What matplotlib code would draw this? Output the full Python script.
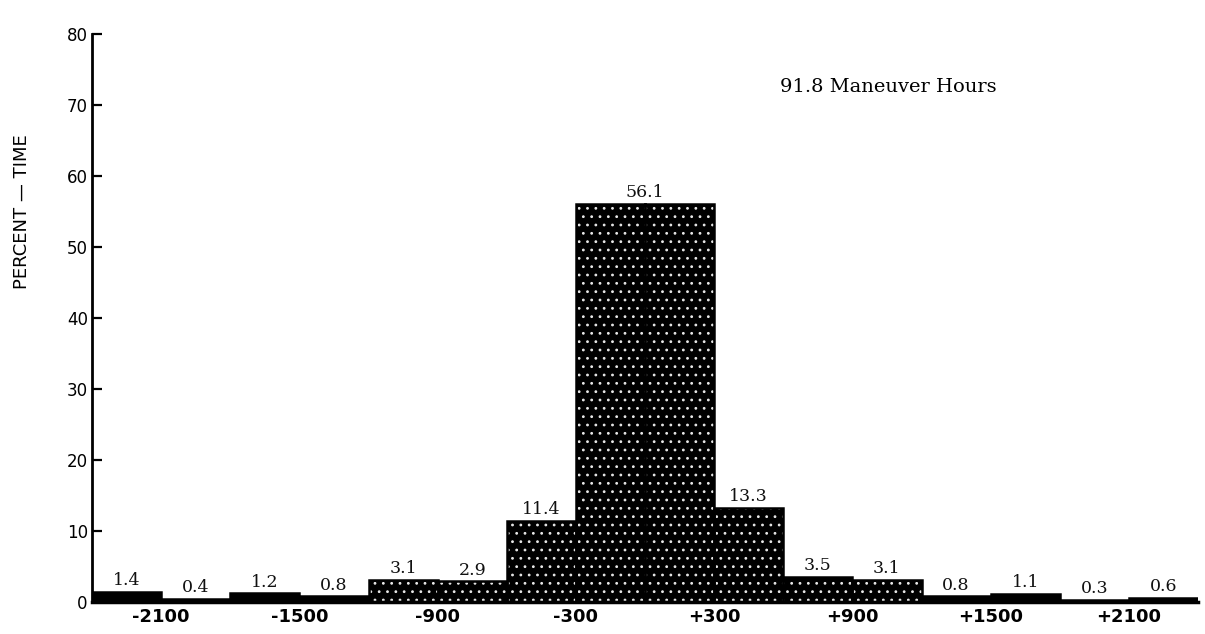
import matplotlib
matplotlib.use("Agg")
import matplotlib.pyplot as plt
import numpy as np

# Data
bin_edges = [-2400, -2100, -1800, -1500, -1200, -900, -600, -300, 300, 600, 900, 1200, 1500, 1800, 2100, 2400]
percent = [1.4, 0.4, 1.2, 0.8, 3.1, 2.9, 11.4, 56.1, 13.3, 3.5, 3.1, 0.8, 1.1, 0.3, 0.6]
value_labels = ["1.4", "0.4", "1.2", "0.8", "3.1", "2.9", "11.4", "56.1", "13.3", "3.5", "3.1", "0.8", "1.1", "0.3", "0.6"]
dotted = [False, False, False, False, True, True, True, True, True, True, True, False, False, False, False]
xtick_values = [-2100, -1500, -900, -300, 300, 900, 1500, 2100]
xtick_labels = ["-2100", "-1500", "-900", "-300", "+300", "+900", "+1500", "+2100"]
ytick_values = [0, 10, 20, 30, 40, 50, 60, 70, 80]
annotation = "91.8 Maneuver Hours"
ylabel = "PERCENT \u2014 TIME"

W, H = 1205, 634
fig = plt.figure(figsize=(W / 100, H / 100), dpi=100)
ax = fig.add_axes([92 / W, 32 / H, (1198 - 92) / W, 568 / H])

plt.rcParams['hatch.linewidth'] = 0.8

edges = np.array(bin_edges, dtype=float)
lefts = edges[:-1]
widths = np.diff(edges)

for l, w, v, d in zip(lefts, widths, percent, dotted):
    if d:
        ax.bar(l, v, width=w, align='edge', facecolor='black', edgecolor='#e8e8e8',
               hatch='..', linewidth=0, zorder=2)
    else:
        ax.bar(l, v, width=w, align='edge', facecolor='black', linewidth=0, zorder=2)
    ax.bar(l, v, width=w, align='edge', fill=False, edgecolor='black', linewidth=1.8, zorder=3)

# divider line in the central bar at zero
ax.plot([0, 0], [0, percent[7]], color='black', linewidth=2.0, zorder=4)

for l, w, v, t in zip(lefts, widths, percent, value_labels):
    ax.annotate(t, (l + w / 2, v), xytext=(0, 2), textcoords='offset points',
                ha='center', va='bottom', fontsize=12.5, family='DejaVu Serif', color='#111111')

ax.set_xlim(edges[0], edges[-1])
ax.set_ylim(0, 80)
ax.set_xticks(xtick_values)
ax.set_xticklabels(xtick_labels, fontsize=13, fontweight='bold', family='DejaVu Sans')
ax.set_yticks(ytick_values)
ax.set_yticklabels([str(v) for v in ytick_values], fontsize=12, family='DejaVu Sans')
ax.tick_params(axis='x', length=0, pad=4)
ax.tick_params(axis='y', direction='in', length=7, width=1.6, pad=3)

for s in ['top', 'right']:
    ax.spines[s].set_visible(False)
ax.spines['left'].set_linewidth(2.0)
ax.spines['bottom'].set_linewidth(2.5)

fig.text(780 / W, 1 - 87 / H, annotation, fontsize=14, family='DejaVu Serif',
         ha='left', va='center')
fig.text(22 / W, 1 - 212 / H, ylabel, rotation=90, fontsize=13, family='DejaVu Sans',
         ha='center', va='center')

fig.savefig("out.png", dpi=100)
